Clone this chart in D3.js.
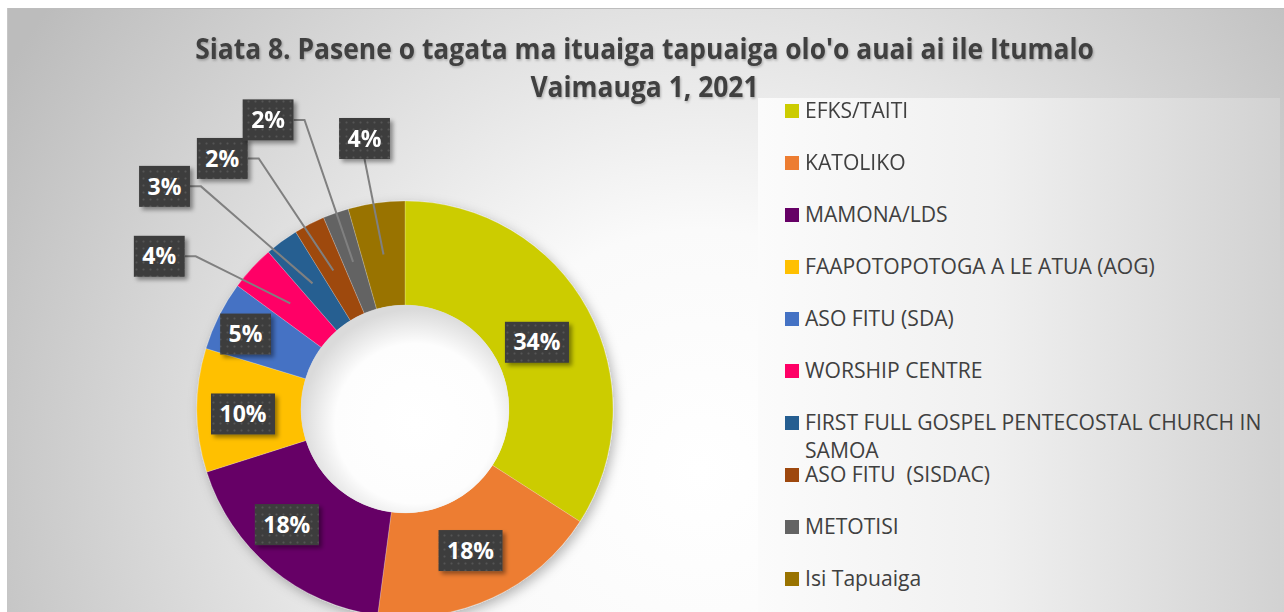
<!DOCTYPE html>
<html>
<head>
<meta charset="utf-8">
<script src="https://cdn.jsdelivr.net/npm/d3@7"></script>
<style>
  html, body { margin: 0; padding: 0; background: #ffffff; }
  svg { display: block; }
</style>
</head>
<body>
<svg id="chart" width="1284" height="612"></svg>
<script>
// ---------------- DATA ----------------
const titleLines = ["Siata 8. Pasene o tagata ma ituaiga tapuaiga olo'o auai ai ile Itumalo", "Vaimauga 1, 2021"];
const categories = [
  "EFKS/TAITI",
  "KATOLIKO",
  "MAMONA/LDS",
  "FAAPOTOPOTOGA A LE ATUA (AOG)",
  "ASO FITU (SDA)",
  "WORSHIP CENTRE",
  "FIRST FULL GOSPEL PENTECOSTAL CHURCH IN SAMOA",
  "ASO FITU  (SISDAC)",
  "METOTISI",
  "Isi Tapuaiga"
];
const shares = [34.1, 18.0, 18.0, 9.6, 5.4, 3.5, 2.6, 2.4, 2.0, 4.4];
const colors = ["#cccc00", "#ed7d31", "#660066", "#ffc000", "#4472c4", "#ff0066", "#255e91", "#9e480e", "#636363", "#997300"];

// ---------------- LAYOUT ----------------
const W = 1284, H = 612;
const cx = 405, cy = 409, rOuter = 208, rInner = 104;
// label box shift from the slice's mid-ring centroid
const labelShift = [[-5, 8], [0, 0], [-18, -4], [-6, 4], [-20, -5], [-131, -47], [-148, -97], [-111, -112], [-85, -142], [-19, -116]];

const svg = d3.select("#chart");
const defs = svg.append("defs");

// background radial gradient
const bg = defs.append("radialGradient").attr("id", "bgGrad")
  .attr("gradientUnits", "userSpaceOnUse").attr("cx", 700).attr("cy", 470).attr("r", 800);
bg.append("stop").attr("offset", 0).attr("stop-color", "#ffffff");
bg.append("stop").attr("offset", 0.3).attr("stop-color", "#fafafa");
bg.append("stop").attr("offset", 1).attr("stop-color", "#bcbcbc");

const lg = defs.append("linearGradient").attr("id", "legGrad")
  .attr("x1", 0).attr("y1", 0).attr("x2", 1).attr("y2", 0);
lg.append("stop").attr("offset", 0).attr("stop-color", "#fbfbfb");
lg.append("stop").attr("offset", 0.45).attr("stop-color", "#f0f0f0");
lg.append("stop").attr("offset", 1).attr("stop-color", "#d2d2d2");

const hole = defs.append("radialGradient").attr("id", "holeGrad")
  .attr("cx", 0.55).attr("cy", 0.57).attr("r", 0.55);
hole.append("stop").attr("offset", 0).attr("stop-color", "#ffffff");
hole.append("stop").attr("offset", 0.7).attr("stop-color", "#fdfdfd");
hole.append("stop").attr("offset", 1).attr("stop-color", "#dadada");

const pat = defs.append("pattern").attr("id", "dots")
  .attr("patternUnits", "userSpaceOnUse").attr("width", 7).attr("height", 7);
pat.append("rect").attr("width", 7).attr("height", 7).attr("fill", "#3d3d3d");
pat.append("circle").attr("cx", 3.5).attr("cy", 3.5).attr("r", 1.1).attr("fill", "#555555");

const sh = defs.append("filter").attr("id", "donutShadow")
  .attr("x", "-20%").attr("y", "-20%").attr("width", "140%").attr("height", "140%");
sh.append("feDropShadow").attr("dx", 3).attr("dy", 4).attr("stdDeviation", 6)
  .attr("flood-color", "#000").attr("flood-opacity", 0.28);

const bsh = defs.append("filter").attr("id", "boxShadow")
  .attr("x", "-20%").attr("y", "-20%").attr("width", "150%").attr("height", "150%");
bsh.append("feDropShadow").attr("dx", 3).attr("dy", 3).attr("stdDeviation", 2)
  .attr("flood-color", "#000").attr("flood-opacity", 0.4);

const tsh = defs.append("filter").attr("id", "textShadow")
  .attr("x", "-5%").attr("y", "-20%").attr("width", "110%").attr("height", "150%");
tsh.append("feDropShadow").attr("dx", 1).attr("dy", 1.5).attr("stdDeviation", 1)
  .attr("flood-color", "#000").attr("flood-opacity", 0.25);

// ---------------- BACKGROUND ----------------
svg.append("rect").attr("x", 7).attr("y", 8).attr("width", W - 7).attr("height", H - 8)
  .attr("fill", "url(#bgGrad)");
svg.append("line").attr("x1", 7).attr("x2", W).attr("y1", 8.5).attr("y2", 8.5)
  .attr("stroke", "#bdbdbd").attr("stroke-width", 1);
svg.append("line").attr("x1", 7.5).attr("x2", 7.5).attr("y1", 8).attr("y2", H)
  .attr("stroke", "#c6c6c6").attr("stroke-width", 1);

// legend panel
svg.append("rect").attr("x", 758).attr("y", 98).attr("width", 522).attr("height", H - 98)
  .attr("fill", "url(#legGrad)");

// ---------------- TITLE ----------------
const titleG = svg.append("g").attr("filter", "url(#textShadow)");
const t1 = titleG.append("text").text(titleLines[0])
  .attr("font-family", "'Open Sans', sans-serif").attr("font-weight", 700)
  .attr("font-size", 28).attr("fill", "#404040").attr("text-anchor", "middle");
const natW = t1.node().getComputedTextLength();
const tsx = 899 / natW;
t1.attr("transform", `translate(644.5,58.5) scale(${tsx},1)`);
titleG.append("text").text(titleLines[1])
  .attr("font-family", "'Open Sans', sans-serif").attr("font-weight", 700)
  .attr("font-size", 28).attr("fill", "#404040").attr("text-anchor", "middle")
  .attr("transform", `translate(644.5,97) scale(${tsx},1)`);

// ---------------- DONUT ----------------
const data = categories.map((c, i) => ({ name: c, value: shares[i], color: colors[i], i }));
const total = d3.sum(shares);
const pie = d3.pie().value(d => d.value).sort(null);
const arcs = pie(data);
const arc = d3.arc().innerRadius(rInner).outerRadius(rOuter);
const midArc = d3.arc().innerRadius(156).outerRadius(156);

const g = svg.append("g").attr("transform", `translate(${cx},${cy})`);
const ring = g.append("g").attr("filter", "url(#donutShadow)");
ring.selectAll("path").data(arcs).join("path")
  .attr("d", arc).attr("fill", d => d.data.color)
  .attr("stroke", "rgba(255,255,255,0.35)").attr("stroke-width", 0.6);
g.append("circle").attr("r", rInner).attr("fill", "url(#holeGrad)");

// ---------------- LABELS ----------------
const fmt = v => Math.round(v / total * 100) + "%";
const labG = svg.append("g");
arcs.forEach((a, k) => {
  const c = midArc.centroid(a);
  const px = cx + c[0], py = cy + c[1];
  const bx = px + labelShift[k][0], by = py + labelShift[k][1];
  const grp = labG.append("g");
  const txt = grp.append("text").text(fmt(a.data.value))
    .attr("font-family", "'Open Sans', sans-serif").attr("font-weight", 700)
    .attr("font-size", 23).attr("fill", "#ffffff").attr("text-anchor", "middle")
    .attr("x", bx).attr("y", by + 8.2);
  const tw = txt.node().getComputedTextLength();
  const bw = tw + 17, bh = 41;
  const dist = Math.hypot(labelShift[k][0], labelShift[k][1]);
  if (dist > 60) {
    let pts;
    if (px > bx + bw / 2 + 10) {
      pts = [[bx + bw / 2, by], [bx + bw / 2 + 11, by], [px, py]];
    } else {
      pts = [[bx, by + bh / 2], [px, py]];
    }
    labG.insert("path", ":first-child").attr("d", d3.line()(pts))
      .attr("fill", "none").attr("stroke", "#808080").attr("stroke-width", 2);
  }
  grp.insert("rect", "text").attr("x", bx - bw / 2).attr("y", by - bh / 2)
    .attr("width", bw).attr("height", bh).attr("fill", "url(#dots)")
    .attr("filter", "url(#boxShadow)");
});

// ---------------- LEGEND ----------------
const legG = svg.append("g");
const probe = legG.append("text").text(categories[3])
  .attr("font-family", "'Open Sans', sans-serif").attr("font-size", 21);
const lsx = 350 / probe.node().getComputedTextLength();
probe.remove();
const maxW = 470 / lsx;

data.forEach((d, i) => {
  const y = 118 + 52 * i;
  legG.append("rect").attr("x", 785).attr("y", y - 14).attr("width", 14).attr("height", 14)
    .attr("fill", d.color);
  const t = legG.append("text")
    .attr("font-family", "'Open Sans', sans-serif").attr("font-size", 21)
    .attr("fill", "#404040").attr("transform", `translate(805,${y}) scale(${lsx},1)`)
    .style("white-space", "pre");
  // word wrap
  const words = d.name.split(" ");
  let line = [], lineNo = 0;
  let tspan = t.append("tspan").attr("x", 0).attr("y", 0);
  words.forEach((w) => {
    line.push(w);
    tspan.text(line.join(" "));
    if (tspan.node().getComputedTextLength() > maxW && line.length > 1) {
      line.pop();
      tspan.text(line.join(" "));
      line = [w];
      lineNo++;
      tspan = t.append("tspan").attr("x", 0).attr("y", lineNo * 28).text(w);
    }
  });
});
</script>
</body>
</html>
